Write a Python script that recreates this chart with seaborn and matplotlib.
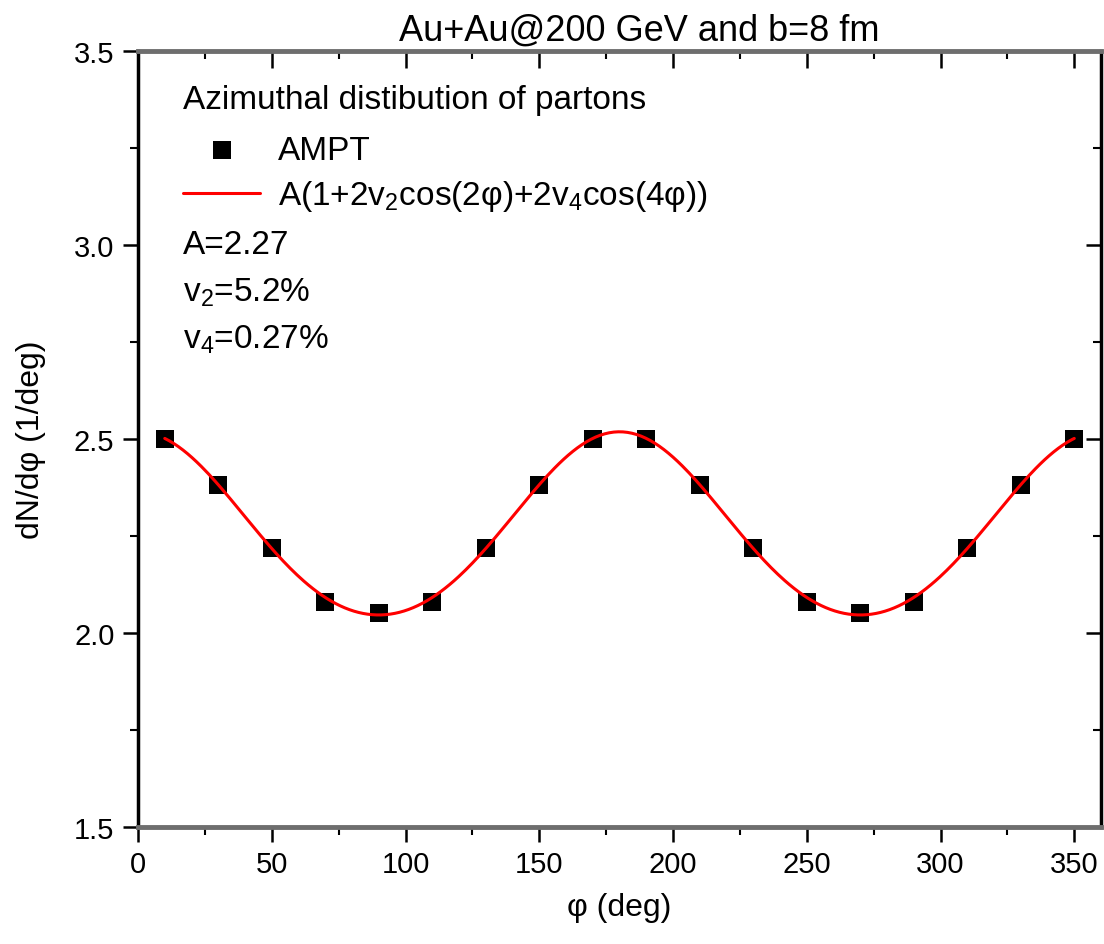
import numpy as np
import pandas as pd
import matplotlib
matplotlib.use("Agg")
import matplotlib.pyplot as plt
import seaborn as sns

# ---- data ----
phi_deg = [10, 30, 50, 70, 90, 110, 130, 150, 170, 190, 210, 230, 250, 270, 290, 310, 330, 350]
dndphi = [2.50, 2.38, 2.22, 2.08, 2.05, 2.08, 2.22, 2.38, 2.50, 2.50, 2.38, 2.22, 2.08, 2.05, 2.08, 2.22, 2.38, 2.50]
fit_A = 2.27
fit_v2 = 0.052
fit_v4 = 0.0027
x_ticks = [0, 50, 100, 150, 200, 250, 300, 350]
y_ticks = [1.5, 2.0, 2.5, 3.0, 3.5]

sns.set_style("white")
plt.rcParams['font.family'] = ['Liberation Sans', 'DejaVu Sans']
plt.rcParams['mathtext.fontset'] = 'custom'
plt.rcParams['mathtext.rm'] = 'Liberation Sans'
plt.rcParams['mathtext.it'] = 'Liberation Sans'
for k in ['text.color', 'axes.labelcolor', 'xtick.color', 'ytick.color']:
    plt.rcParams[k] = 'black'

fig = plt.figure(figsize=(11.04, 9.45), dpi=100)
ax = fig.add_axes([0.125, 0.124, 0.8723, 0.821])

df_pts = pd.DataFrame({"phi": phi_deg, "dN": dndphi})
phi_fit = np.linspace(phi_deg[0], phi_deg[-1], 400)
rad = np.deg2rad(phi_fit)
df_fit = pd.DataFrame({"phi": phi_fit,
                       "dN": fit_A * (1 + 2 * fit_v2 * np.cos(2 * rad) + 2 * fit_v4 * np.cos(4 * rad))})

sns.scatterplot(data=df_pts, x="phi", y="dN", marker="s", s=175, color="black",
                edgecolor="black", linewidth=0, ax=ax, label="AMPT", zorder=3)
sns.lineplot(data=df_fit, x="phi", y="dN", color="#ff0000", linewidth=2.2, ax=ax,
             label=r"A(1+2v$_2$cos(2φ)+2v$_4$cos(4φ))", zorder=4)

ax.set_xlim(0, 360)
ax.set_ylim(1.5, 3.5)
ax.set_xticks(x_ticks)
ax.set_yticks(y_ticks)
ax.set_yticklabels([f"{v:.1f}" for v in y_ticks])
ax.set_xticks(np.arange(25, 360, 50), minor=True)
ax.set_yticks(np.arange(1.75, 3.5, 0.5), minor=True)
ax.tick_params(axis='both', which='both', bottom=True, left=True, top=False, right=False)
ax.tick_params(axis='both', which='major', direction='out', length=11, width=1.8,
               labelsize=21, pad=6)
ax.tick_params(axis='both', which='minor', direction='out', length=6, width=1.5)

# top / right inward ticks
secx = ax.secondary_xaxis('top')
secx.set_xticks(x_ticks)
secx.set_xticks(np.arange(25, 360, 50), minor=True)
secx.tick_params(which='both', top=True, labeltop=False)
secx.tick_params(which='major', direction='in', length=12, width=1.8)
secx.tick_params(which='minor', direction='in', length=6, width=1.5)
secx.spines['top'].set_visible(False)
secy = ax.secondary_yaxis('right')
secy.set_yticks(y_ticks)
secy.set_yticks(np.arange(1.75, 3.5, 0.5), minor=True)
secy.tick_params(which='both', right=True, labelright=False)
secy.tick_params(which='major', direction='in', length=11, width=1.8)
secy.tick_params(which='minor', direction='in', length=6, width=1.5)
secy.spines['right'].set_visible(False)

for s in ['top', 'bottom']:
    ax.spines[s].set_color('#6e6e6e')
    ax.spines[s].set_linewidth(3.5)
for s in ['left', 'right']:
    ax.spines[s].set_color('black')
    ax.spines[s].set_linewidth(2.5)

ax.set_xlabel("φ (deg)", fontsize=23, labelpad=10)
ax.set_ylabel("dN/dφ (1/deg)", fontsize=23, labelpad=20)
ax.set_title("Au+Au@200 GeV and b=8 fm", fontsize=26, pad=8, x=0.52)

ax.text(0.047, 0.938, "Azimuthal distibution of partons", transform=ax.transAxes,
        fontsize=24, va='center')
leg = ax.legend(loc='upper left',
                bbox_to_anchor=(0.047, 0.892), frameon=False, fontsize=24,
                handlelength=2.3, handletextpad=0.55,
                labelspacing=0.38, borderpad=0.0, borderaxespad=0.0, markerscale=1.0)

ax.text(0.047, 0.751, "A=2.27", transform=ax.transAxes, fontsize=24, va='center')
ax.text(0.047, 0.689, r"v$_2$=5.2%", transform=ax.transAxes, fontsize=24, va='center')
ax.text(0.047, 0.629, r"v$_4$=0.27%", transform=ax.transAxes, fontsize=24, va='center')

fig.savefig("out.png", dpi=100)
